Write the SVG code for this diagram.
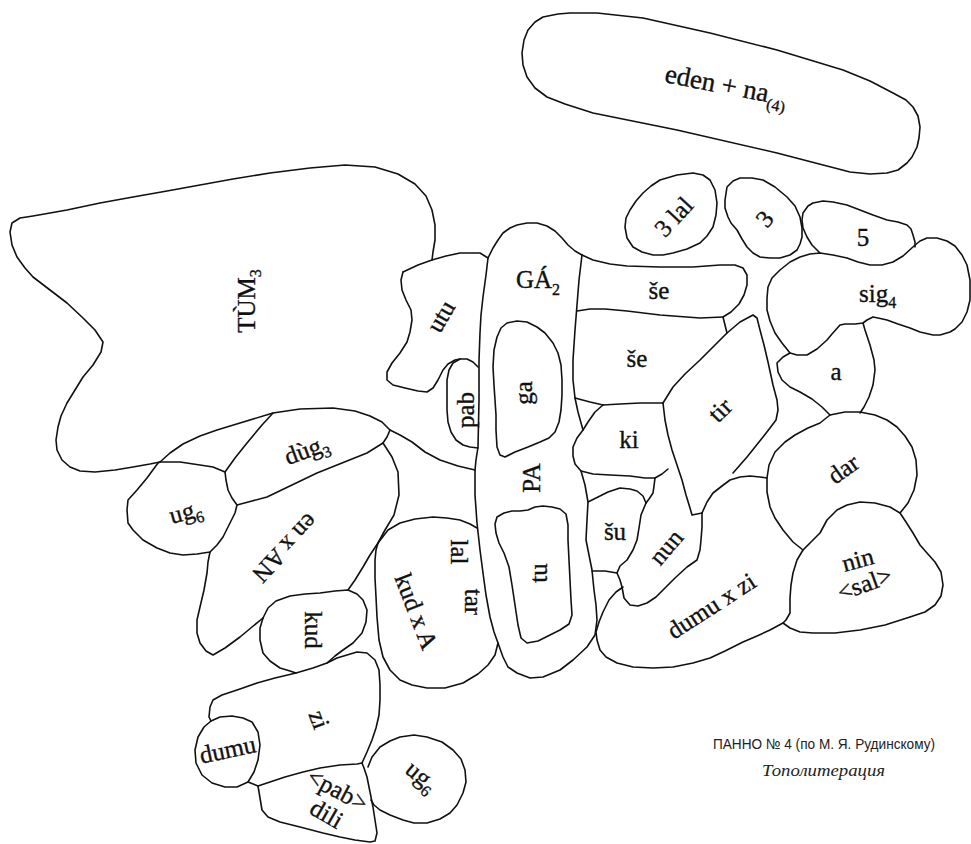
<svg xmlns="http://www.w3.org/2000/svg" width="971" height="844" viewBox="0 0 971 844">
<style>
.ln{fill:none;stroke:#111;stroke-width:1.6;stroke-linejoin:round;stroke-linecap:round}
.lb{font-family:"Liberation Serif","Times New Roman",serif;font-size:25px;text-anchor:middle;fill:#111;stroke:#111;stroke-width:0.35}
.sb{font-size:16px}
.cap{font-family:"Liberation Sans","Noto Sans",sans-serif;font-size:15px;fill:#222}
.cap2{font-family:"Liberation Serif","Times New Roman",serif;font-style:italic;font-size:17px;fill:#222}
</style>
<rect width="971" height="844" fill="#fff"/>

<!-- top cartouche -->
<g id="eden">
<path class="ln" d="M543,17 L558,14 570,13 597,13 643,18 710,33 777,50 843,70 870,81 893,93 906,100 913,107 918,116 920,127 919,138 917,147 912,157 907,163 898,170 887,173 870,174 850,172 777,153 677,130 593,113 565,104 547,97 535,88 527,77 523,65 522,53 524,40 528,30 535,22 Z"/>
<text class="lb" style="font-size:27px" transform="translate(726,86) rotate(11)" y="8">eden + na<tspan class="sb" dy="7">(4)</tspan></text>
</g>

<g id="three-lal">
<path class="ln" d="M660,180 L677,175 693,173 703,175 710,180 715,190 717,203 716,215 713,227 707,236 700,243 687,249 673,253 663,255 653,255 642,252 633,247 627,238 625,227 626,218 630,210 636,201 643,193 651,186 Z"/>
<text class="lb" transform="translate(674,217) rotate(-47)" y="8">3 lal</text>
</g>

<g id="three">
<path class="ln" d="M727,187 L733,181 740,178 752,178 763,180 775,187 787,197 795,206 800,217 802,228 802,237 800,244 797,250 790,255 780,258 770,258 760,257 753,253 747,247 742,239 737,230 731,223 728,217 725,208 725,200 Z"/>
<text class="lb" transform="translate(765,219) rotate(-50)" y="8">3</text>
</g>

<g id="five">
<path class="ln" d="M820,253 L812,245 807,237 803,228 802,220 803,213 808,206 813,203 823,201 833,202 847,205 860,210 873,215 887,220 898,222 907,225 911,229 913,235 915,242 915,247"/>
<text class="lb" x="863" y="246">5</text>
</g>

<g id="sig4">
<path class="ln" d="M820,253 L833,255 847,258 858,262 870,265 882,265 893,262 903,256 914,246 920,241 927,238 937,238 947,241 955,246 962,255 967,265 970,280 970,300 967,312 962,322 955,329 950,332 940,335 933,335 920,332 910,328 898,324 887,320 878,318 873,317 867,320 863,323 855,324 845,324 840,325 832,334 827,340 817,349 807,355 797,355 790,353 782,343 775,333 770,321 767,310 767,298 768,287 772,278 780,270 790,262 800,257 810,254 Z"/>
<text class="lb" x="859" y="302" style="text-anchor:start">sig<tspan class="sb" dy="6">4</tspan></text>
</g>

<g id="a">
<path class="ln" d="M790,353 L783,357 777,363 778,372 782,380 790,387 800,392 812,399 822,407 830,415"/>
<path class="ln" d="M863,323 L865,330 870,345 874,360 875,370 873,385 869,397 864,407 860,413"/>
<text class="lb" x="836" y="380">a</text>
</g>

<!-- central column -->
<g id="ga2">
<path class="ln" d="M403,272 L418,265 432,260 446,256 460,253 480,253 488,258 L493,248 498,240 503,233 510,228 517,225 527,223 537,223 547,226 555,231 562,238 568,245 575,251 582,255"/>
<path class="ln" d="M488,258 L486,275 483,297 481,315 480,333 479,360 479,400 478,447 476,460 475,470 475,495 477,523 480,550 483,573 486,595 490,617 494,632 498,643 503,657 508,667 517,673 530,678 543,677 560,670 573,660 587,647 595,635 597,620 596,605 594,590 592,570 589,555 586,540 587,520 588,502 585,485 581,471"/>
<path class="ln" d="M582,255 L579,280 577,305 575,330 573,360 573,380 575,398 578,412 583,430"/>
<text class="lb" x="516" y="288" style="text-anchor:start">GÁ<tspan class="sb" dy="7">2</tspan></text>
</g>

<g id="ga">
<path class="ln" d="M507,323 L517,321 527,322 537,327 545,333 553,343 558,353 561,365 562,380 562,395 561,410 559,422 555,432 549,438 540,442 528,447 515,452 505,457 500,455 497,447 496,430 496,415 495,400 494,385 493,367 494,350 497,337 501,328 Z"/>
<text class="lb" transform="translate(525,393) rotate(-90)" y="7">ga</text>
</g>

<g id="pa">
<text class="lb" transform="translate(532,478) rotate(-90)" y="8">PA</text>
</g>

<g id="tu">
<path class="ln" d="M497,517 L504,513 512,511 520,511 528,510 535,507 543,506 552,507 560,509 566,514 568,525 568,540 569,560 570,580 571,600 572,615 569,624 560,630 548,636 538,641 527,643 521,638 518,625 515,605 512,585 509,567 504,553 499,543 496,533 495,524 Z"/>
<text class="lb" transform="translate(540,573) rotate(-90)" y="7">tu</text>
</g>

<g id="pab">
<path class="ln" d="M478,367 L473,362 467,359 460,359 453,363 449,370 447,380 447,395 447,410 448,422 451,432 456,440 463,445 470,447 478,448"/>
<text class="lb" transform="translate(467,410) rotate(-90)" y="7">pab</text>
</g>

<g id="utu">
<path class="ln" d="M403,272 L401,280 402,290 406,300 411,310 412,320 410,332 407,342 400,353 392,363 387,372 387,380 393,385 405,388 418,391 427,392 433,388 438,380 443,370 448,364 455,360 460,359"/>
<text class="lb" transform="translate(442,317) rotate(-60)" y="7">utu</text>
</g>

<!-- large left field -->
<g id="tum3">
<path class="ln" d="M432,260 L433,252 435,240 435,225 432,210 426,196 415,184 398,174 375,167 345,165 310,168 270,173 233,179 200,185 167,191 133,197 100,203 67,210 33,216 20,218 12,223 10,232 12,245 17,257 25,268 33,277 50,290 67,303 83,318 95,330 103,342 101,352 93,365 83,377 75,390 67,403 61,416 58,427 56,440 57,450 62,460 70,467 80,471 95,472 115,470 133,467 150,464 160,462"/>
<path class="ln" d="M160,462 L170,453 183,444 200,436 217,430 240,423 273,413 300,409 333,408 355,411 370,416 382,422 390,430 400,435 412,442 425,452 440,460 458,466 475,470"/>
<text class="lb" transform="translate(247,301) rotate(-90)" y="8">TÙM<tspan class="sb" dy="6">3</tspan></text>
</g>

<g id="ug6-left">
<path class="ln" d="M160,462 L158,463 147,478 137,490 128,500 127,510 128,523 133,530 143,540 157,548 170,553 183,555 197,554 210,552 217,545 223,537 230,523 235,513 237,505 232,498 228,490 226,480 225,472 213,467 200,465 180,462 160,462"/>
<text class="lb" transform="translate(186,513) rotate(-15)" y="7">ug<tspan class="sb" dy="6">6</tspan></text>
</g>

<g id="dug3">
<path class="ln" d="M273,413 L262,425 247,443 235,458 225,472"/>
<path class="ln" d="M237,505 L252,501 267,497 292,485 317,473 342,463 367,453 383,443 387,437 390,430"/>
<text class="lb" transform="translate(307,451) rotate(-20)" y="7">dùg<tspan class="sb" dy="6">3</tspan></text>
</g>

<g id="en-x-an">
<path class="ln" d="M210,552 L208,562 207,573 204,590 200,607 197,620 197,633 200,643 206,651 213,655 225,648 240,637 252,627 263,618"/>
<path class="ln" d="M383,443 L392,457 398,472 399,495 394,515 385,530 378,543 370,555 363,567 355,580 348,590"/>
<text class="lb" transform="translate(285,548) rotate(133)" y="8">en x AN</text>
</g>

<g id="kud">
<path class="ln" d="M263,618 L268,608 276,601 290,596 305,594 320,593 335,591 348,590 357,594 363,600 367,610 366,622 362,633 353,643 343,650 335,656 327,663"/>
<path class="ln" d="M263,618 L260,628 260,640 263,653 270,661 280,668 290,671 296,673"/>
<text class="lb" transform="translate(312,630) rotate(90)" y="7">kud</text>
</g>

<g id="kud-x-a">
<path class="ln" d="M378,543 L388,530 400,523 415,519 433,517 447,518 460,520 470,524 477,528"/>
<path class="ln" d="M498,643 L495,655 488,665 478,674 463,683 445,688 427,688 412,685 400,680 390,670 383,657 379,640 377,617 376,597 375,578 375,560 376,550 378,543"/>
<text class="lb" transform="translate(415,612) rotate(69)" y="7">kud x A</text>
<text class="lb" transform="translate(458,552) rotate(90)" y="7">lal</text>
<text class="lb" transform="translate(472,602) rotate(90)" y="7">tar</text>
</g>

<g id="zi">
<path class="ln" d="M211,721 L209,717 210,707 213,700 222,695 240,689 257,683 275,678 296,673 313,668 327,663 337,658 347,655 357,652 367,653 375,660 379,670 380,685 380,700 379,715 376,728 372,740 367,752 362,763"/>
<path class="ln" d="M248,782 L258,786 270,782 285,777 303,772 320,768 340,765 357,764 362,763"/>
<text class="lb" transform="translate(318,720) rotate(70)" y="7">zi</text>
</g>

<g id="dumu">
<path class="ln" d="M211,721 L220,717 232,716 243,718 252,722 258,732 260,745 258,760 254,772 248,782 237,787 225,787 212,783 202,775 196,763 195,750 198,737 204,727 Z"/>
<text class="lb" transform="translate(228,751) rotate(-12)" y="7">dumu</text>
</g>

<g id="pab-dili">
<path class="ln" d="M258,786 L260,798 262,810 268,817 280,822 300,827 323,833 340,837 355,840 370,842 375,841 377,833 375,820 373,807 370,792 367,777 364,768 362,763"/>
<text class="lb" transform="translate(337,791) rotate(28)" y="7">&lt;pab&gt;</text>
<text class="lb" transform="translate(326,815) rotate(30)" y="7">dili</text>
</g>

<g id="ug6-low">
<path class="ln" d="M368,767 L372,757 380,747 390,741 400,737 414,735 427,737 442,742 453,750 461,759 465,770 466,782 463,793 457,805 450,813 440,819 427,823 414,823 403,820 390,815 380,810 374,805 371,800"/>
<text class="lb" transform="translate(421,777) rotate(40)" y="7">ug<tspan class="sb" dy="6">6</tspan></text>
</g>

<!-- right-hand column -->
<g id="se-1">
<path class="ln" d="M582,255 L593,260 610,264 627,266 660,267 693,267 720,265 735,265 743,268 747,275 747,285 744,295 739,304 731,312 723,317 725,325 727,333"/>
<path class="ln" d="M577,311 L590,309 605,309 627,311 660,315 700,318 723,317"/>
<text class="lb" x="659" y="299">še</text>
</g>

<g id="se-2">
<path class="ln" d="M575,398 L590,402 603,405"/>
<text class="lb" x="637" y="367">še</text>
</g>

<g id="ki">
<path class="ln" d="M603,405 L620,404 640,403 663,403"/>
<path class="ln" d="M603,405 L595,412 588,422 583,430 577,438 573,447 573,456 575,464 581,471 593,474 610,475 630,476 645,478 655,478 662,474 668,469"/>
<text class="lb" x="629" y="448">ki</text>
</g>

<g id="tir">
<path class="ln" d="M663,403 L668,395 673,387 685,374 700,360 713,347 727,333 740,322 753,315 757,318 760,330 764,345 768,362 773,385 777,400 778,410 776,420 770,428 763,437 755,447 747,457 740,465 733,473"/>
<path class="ln" d="M663,403 L665,420 668,435 672,450 677,465 682,480 686,495 690,508 692,515 702,513"/>
<text class="lb" transform="translate(721,411) rotate(-45)" y="7">tir</text>
</g>

<g id="su">
<path class="ln" d="M588,502 L598,497 608,492 620,488 630,489 637,491 643,496 646,503"/>
<path class="ln" d="M655,478 L654,486 653,493 649,499 646,503"/>
<path class="ln" d="M592,571 L605,571 617,573"/>
<text class="lb" x="615" y="540">šu</text>
</g>

<g id="nun">
<path class="ln" d="M646,503 L641,515 639,528 637,540 633,550 627,560 620,566 617,573 620,580 622,587 624,598 630,605 638,606 647,603 656,597 663,590 675,578 687,567 697,560 700,550 701,540 702,527 702,513"/>
<text class="lb" transform="translate(667,548) rotate(-50)" y="7">nun</text>
</g>

<g id="dumu-x-zi">
<path class="ln" d="M702,513 L707,502 713,493 722,486 730,480 740,477 750,476 760,477 767,478"/>
<path class="ln" d="M783,623 L770,630 757,636 743,642 725,651 710,658 693,663 673,667 653,668 633,667 617,663 606,657 600,650 597,640 596,632 599,622 603,612 609,600 616,592 623,587"/>
<text class="lb" transform="translate(712,607) rotate(-33)" y="7">dumu x zi</text>
</g>

<g id="dar">
<path class="ln" d="M830,415 L845,412 860,412 875,415 887,420 897,427 905,436 912,447 916,460 917,475 914,490 908,503 900,513 890,507 875,503 860,502 847,505 837,510 827,520 820,533 812,541 803,550 793,542 783,530 775,518 770,507 767,492 767,478 769,465 775,452 785,442 795,435 808,428 820,423 830,415"/>
<text class="lb" transform="translate(844,470) rotate(-35)" y="7">dar</text>
</g>

<g id="nin">
<path class="ln" d="M803,550 L797,560 793,573 791,585 790,598 790,613 786,620 783,623 790,628 800,632 813,633 835,633 860,630 885,625 910,617 925,612 935,605 941,596 943,585 941,572 935,562 927,553 920,545 913,533 906,522 900,513"/>
<text class="lb" transform="translate(858,561) rotate(-15)" y="7">nin</text>
<text class="lb" transform="translate(865,585) rotate(-20)" y="7">&lt;sal&gt;</text>
</g>

<!-- caption -->
<g id="caption">
<text class="cap" x="713" y="749" textLength="222" lengthAdjust="spacingAndGlyphs">ПАННО № 4 (по М. Я. Рудинскому)</text>
<text class="cap2" x="762" y="776" textLength="123" lengthAdjust="spacingAndGlyphs">Тополитерация</text>
</g>
</svg>
